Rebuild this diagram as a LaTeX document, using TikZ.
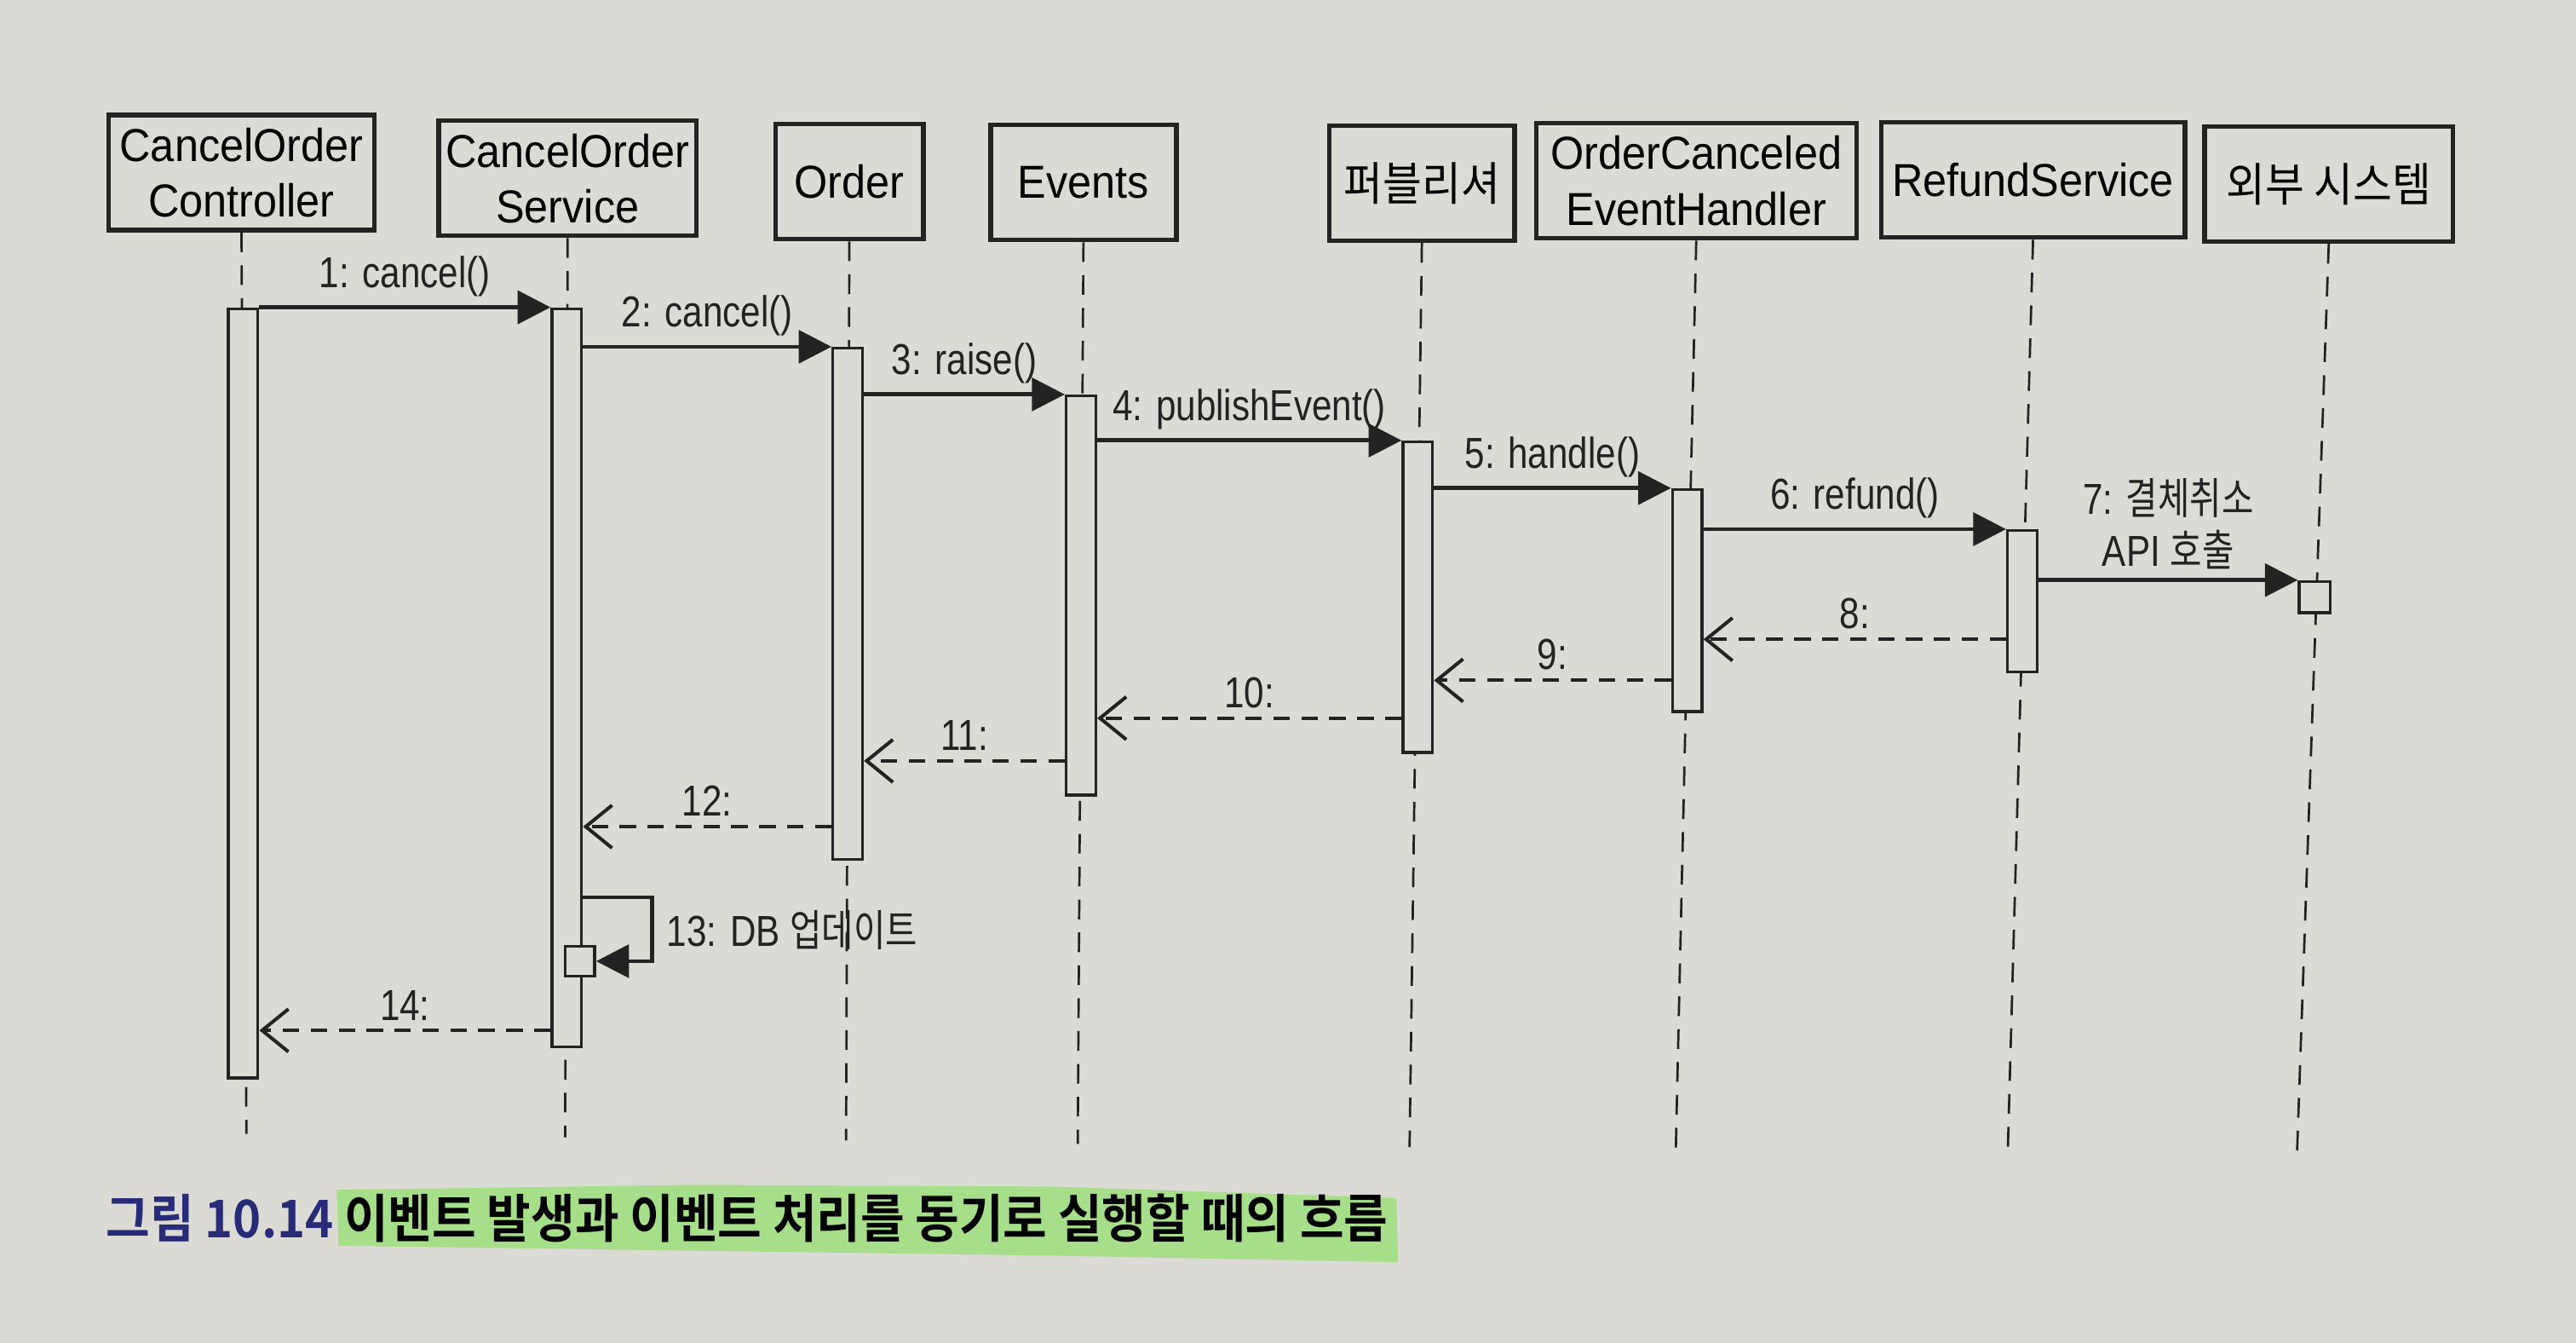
\documentclass[tikz,border=0pt]{standalone}
\usepackage{fontspec}
\setmainfont{Liberation Sans}[FakeStretch=0.93]
\newfontfamily\msgfont{Liberation Sans}[FakeStretch=0.83]
\newfontfamily\kofont{Noto Sans CJK KR}[FakeStretch=0.92]
\newfontfamily\komsg{Noto Sans CJK KR}[FakeStretch=0.8]
\newfontfamily\kobold{Noto Sans CJK KR Bold}[FakeStretch=0.92]
\usetikzlibrary{arrows.meta,positioning}

\definecolor{paper}{RGB}{219,218,212}
\definecolor{inkline}{RGB}{35,35,35}
\definecolor{capblue}{RGB}{40,44,120}
\definecolor{marker}{RGB}{166,222,138}

\tikzset{
  obj/.style={ draw=inkline, line width=0.8pt, minimum height=7mm, inner sep=1pt, align=center, font=\fontsize{8}{9.6}\selectfont }
}
\tikzset{
  actbar/.style={ draw=inkline, line width=0.5pt, fill=paper, minimum width=1.8mm, inner sep=0pt, anchor=north }
}
\tikzset{
  lifeline/.style={ draw=inkline, line width=0.4pt, dash pattern=on 1.2mm off 0.8mm }
}
\tikzset{
  call/.style={ draw=inkline, line width=0.7pt, -{Triangle[length=2mm,width=2mm]} }
}
\tikzset{
  reply/.style={ draw=inkline, line width=0.6pt, dash pattern=on 1mm off 0.7mm, -{Straight Barb[length=1.6mm,width=2.6mm,line width=0.6pt]} }
}
\tikzset{
  msgtext/.style={ inner sep=1.5pt, text=inkline, font=\msgfont\fontsize{7.5}{9}\selectfont }
}
\tikzset{
  msg/.style={ msgtext, midway, above }
}

\begin{document}
\begin{tikzpicture}[x=0.1mm, y=-0.1mm]
      \path[use as bounding box, fill=paper] (0,0) rectangle (1568,817);

      % caption
      \fill[marker] (205,724) -- (420,721) -- (640,722) -- (850,729) -- (851,768) -- (640,764) -- (420,761) -- (206,758) -- cycle;
      \node[anchor=west, inner sep=0pt, font=\kobold\fontsize{9}{11}\selectfont] (caption) at (64,741)
        {\textcolor{capblue}{그림 10.14} 이벤트 발생과 이벤트 처리를 동기로 실행할 때의 흐름};

      % objects
      \node[obj, minimum width=16.2mm] (ctrl) at (147,105) {CancelOrder\\Controller};
      \node[obj, minimum width=15.7mm] (svc) at (345.5,108.5) {CancelOrder\\Service};
      \node[obj, minimum width=9mm] (order) at (517,110.5) {Order};
      \node[obj, minimum width=11.3mm] (events) at (659.5,111) {Events};
      \node[obj, minimum width=11.3mm] (pub) at (865.5,111.5) {\kofont 퍼블리셔};
      \node[obj, minimum width=19.5mm] (handler) at (1032.5,110) {OrderCanceled\\EventHandler};
      \node[obj, minimum width=18.5mm] (refund) at (1237.5,109.5) {RefundService};
      \node[obj, minimum width=15.1mm] (ext) at (1417.5,112) {\kofont 외부 시스템};

      \foreach \o/\x/\y in {ctrl/150/690, svc/344/692, order/515/694, events/656/696,
                            pub/858/698, handler/1020/702, refund/1222/705, ext/1398/707}
        \draw[lifeline] (\o.south) -- (\x,\y);

      % activations
      \node[actbar, minimum height=46.8mm] (actCtrl) at (148,187) {};
      \node[actbar, minimum height=44.9mm] (actSvc) at (345,187) {};
      \node[actbar, minimum height=31.1mm] (actOrder) at (516,211) {};
      \node[actbar, minimum height=24.3mm] (actEvents) at (658,240) {};
      \node[actbar, minimum height=18.9mm] (actPub) at (863,268) {};
      \node[actbar, minimum height=13.5mm] (actHandler) at (1027,297) {};
      \node[actbar, minimum height=8.6mm] (actRefund) at (1231,322) {};
      \node[actbar, minimum height=1.9mm, minimum width=1.9mm] (actExt) at (1409,353) {};
      \node[actbar, minimum height=1.8mm] (actSelf) at (353,575) {};

      \coordinate (m1) at (0,187);   \coordinate (m2) at (0,211);
      \coordinate (m3) at (0,240);   \coordinate (m4) at (0,268);
      \coordinate (m5) at (0,297);   \coordinate (m6) at (0,322);
      \coordinate (m7) at (0,353);   \coordinate (m8) at (0,389);
      \coordinate (m9) at (0,414);   \coordinate (m10) at (0,437);
      \coordinate (m11) at (0,463);  \coordinate (m12) at (0,503);
      \coordinate (m13) at (0,546);  \coordinate (m14) at (0,627);

      % calls
      \draw[call] (actCtrl.east |- m1) -- (actSvc.west |- m1) node[msg] {1: cancel()};
      \draw[call] (actSvc.east |- m2) -- (actOrder.west |- m2) node[msg] {2: cancel()};
      \draw[call] (actOrder.east |- m3) -- (actEvents.west |- m3) node[msg] {3: raise()};
      \draw[call] (actEvents.east |- m4) -- (actPub.west |- m4) node[msg] {4: publishEvent()};
      \draw[call] (actPub.east |- m5) -- (actHandler.west |- m5) node[msg] {5: handle()};
      \draw[call] (actHandler.east |- m6) -- (actRefund.west |- m6) node[msg] {6: refund()};
      \draw[call] (actRefund.east |- m7) -- (actExt.west |- m7)
        node[msg, align=center] {7: {\komsg 결체취소}\\API {\komsg 호출}};

      % replies
      \draw[reply] (actRefund.west |- m8) -- (actHandler.east |- m8) node[msg] {8:};
      \draw[reply] (actHandler.west |- m9) -- (actPub.east |- m9) node[msg] {9:};
      \draw[reply] (actPub.west |- m10) -- (actEvents.east |- m10) node[msg] {10:};
      \draw[reply] (actEvents.west |- m11) -- (actOrder.east |- m11) node[msg] {11:};
      \draw[reply] (actOrder.west |- m12) -- (actSvc.east |- m12) node[msg] {12:};

      % self call
      \draw[call] (actSvc.east |- m13) -- ++(4.2mm,0) |- (actSelf.east);
      \node[msgtext, anchor=west] (lbl13) at (400,566) {13: DB {\komsg 업데이트}};

      \draw[reply] (actSvc.west |- m14) -- (actCtrl.east |- m14) node[msg] {14:};

    \end{tikzpicture}
\end{document}
